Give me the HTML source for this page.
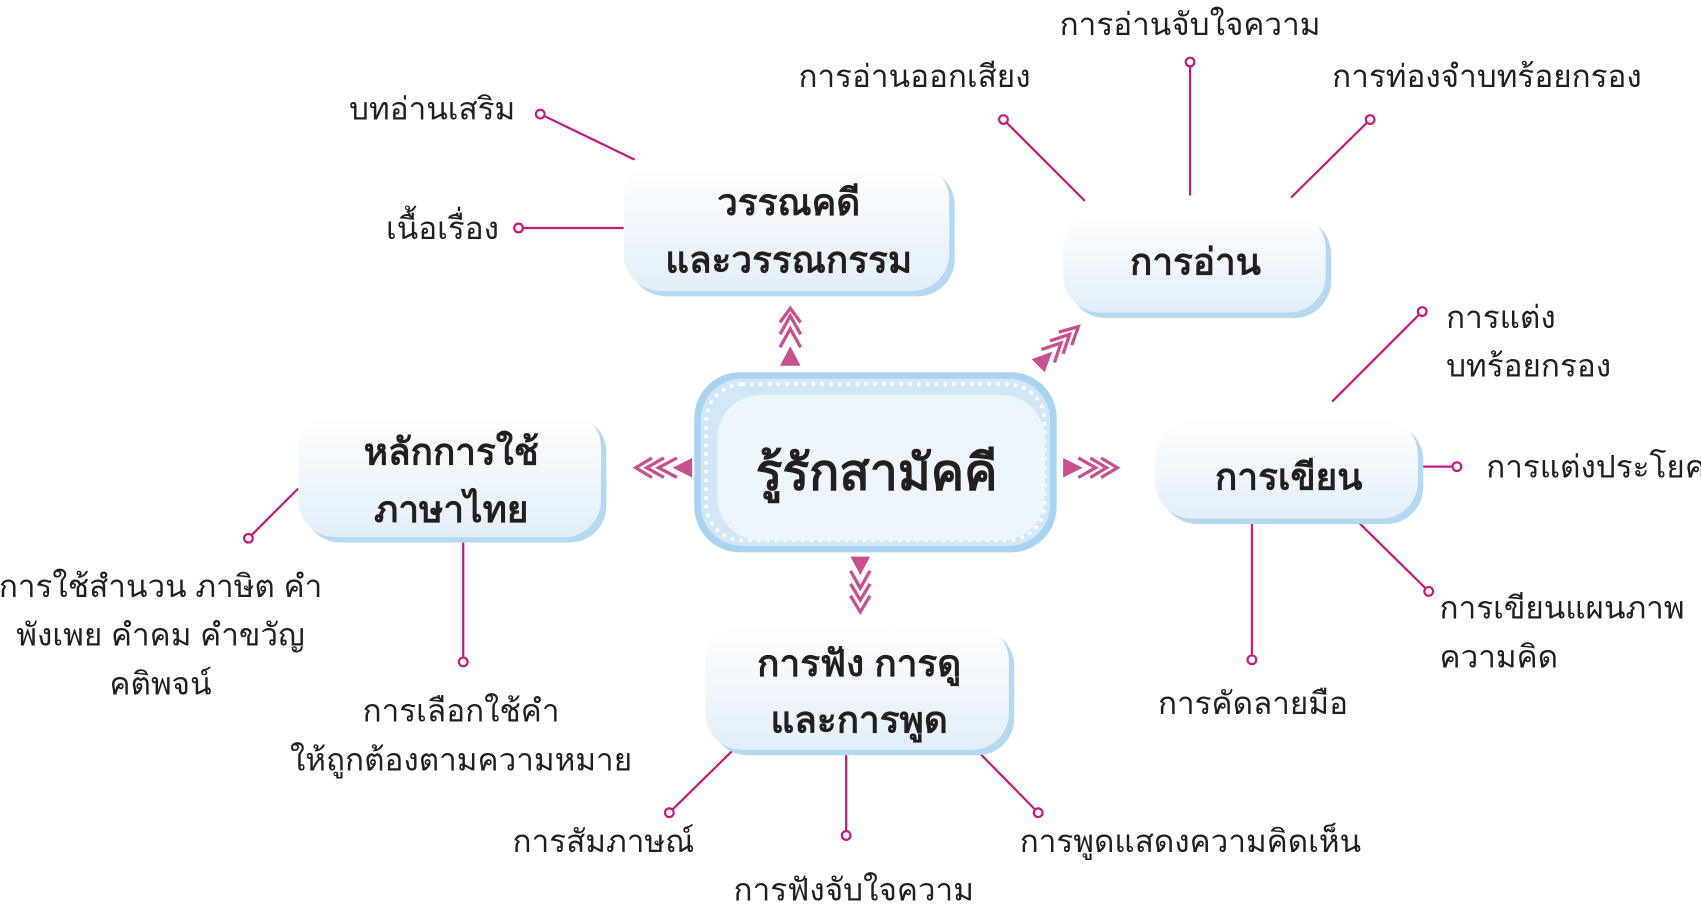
<!DOCTYPE html>
<html><head><meta charset="utf-8"><style>
html,body{margin:0;padding:0;background:#fff;width:1701px;height:904px;overflow:hidden}
svg{display:block}
text{font-family:"Liberation Sans","DejaVu Sans",sans-serif;fill:#231f20}
.b{font-weight:bold;font-size:34px;text-anchor:middle}
.l{font-size:29px}
.ln{stroke:#c8187a;stroke-width:2;fill:none}
.dot{fill:#fff;stroke:#c8187a;stroke-width:2}
.ar{fill:#c94f8f}
.ch{fill:none;stroke:#c94f8f;stroke-width:3}
</style></head><body>
<svg width="1701" height="904" viewBox="0 0 1568 833" xmlns="http://www.w3.org/2000/svg">
<defs>
<linearGradient id="g" x1="0" y1="0" x2="0" y2="1"><stop offset="0" stop-color="#ffffff"/><stop offset="1" stop-color="#e2eff9"/></linearGradient>
</defs>
<g class="ln">
<line x1="498" y1="105" x2="585" y2="147"/>
<line x1="478" y1="210" x2="575" y2="210"/>
<line x1="925" y1="110" x2="1000" y2="185"/>
<line x1="1097" y1="57" x2="1097" y2="180"/>
<line x1="1263" y1="110" x2="1190" y2="182"/>
<line x1="1311" y1="287" x2="1228" y2="370"/>
<line x1="1310" y1="430" x2="1343" y2="430"/>
<line x1="1253" y1="482" x2="1317" y2="545"/>
<line x1="1154" y1="482" x2="1154" y2="608"/>
<line x1="902" y1="693" x2="957" y2="749"/>
<line x1="780" y1="695" x2="780" y2="770"/>
<line x1="677" y1="690" x2="617" y2="749"/>
<line x1="427" y1="497" x2="427" y2="610"/>
<line x1="275" y1="450" x2="229" y2="496"/>
</g>
<g class="dot">
<circle cx="498" cy="105" r="4"/><circle cx="478" cy="210" r="4"/><circle cx="925" cy="110" r="4"/>
<circle cx="1097" cy="57" r="4"/><circle cx="1263" cy="110" r="4"/><circle cx="1311" cy="287" r="4"/>
<circle cx="1343" cy="430" r="4"/><circle cx="1317" cy="545" r="4"/><circle cx="1154" cy="608" r="4"/>
<circle cx="957" cy="749" r="4"/><circle cx="780" cy="770" r="4"/><circle cx="617" cy="749" r="4"/>
<circle cx="427" cy="610" r="4"/><circle cx="229" cy="496" r="4"/>
</g>
<g>
<rect x="580" y="155" width="300" height="118" rx="34" fill="#b4d9f1"/>
<rect x="575" y="150" width="300" height="118" rx="34" fill="url(#g)"/>
<rect x="985" y="200" width="242" height="93" rx="34" fill="#b4d9f1"/>
<rect x="980" y="195" width="242" height="93" rx="34" fill="url(#g)"/>
<rect x="280" y="383" width="279" height="117" rx="34" fill="#b4d9f1"/>
<rect x="275" y="378" width="279" height="117" rx="34" fill="url(#g)"/>
<rect x="1070" y="390" width="242" height="93" rx="34" fill="#b4d9f1"/>
<rect x="1065" y="385" width="242" height="93" rx="34" fill="url(#g)"/>
<rect x="655" y="580" width="280" height="116" rx="34" fill="#b4d9f1"/>
<rect x="650" y="575" width="280" height="116" rx="34" fill="url(#g)"/>
<rect x="640" y="343" width="334" height="166" rx="42" fill="#a9d3f0"/>
<rect x="646" y="349" width="322" height="154" rx="38" fill="#d3e8f6"/>
<rect x="651" y="354" width="312" height="144" rx="34" fill="none" stroke="#fff" stroke-width="3.5" stroke-dasharray="0.1 8" stroke-linecap="round"/>
<rect x="661" y="364" width="302" height="134" rx="40" fill="#eef6fd"/>
</g>
<text class="b" x="727" y="198">วรรณคดี</text>
<text class="b" x="727" y="251">และวรรณกรรม</text>
<text class="b" x="1102" y="253">การอ่าน</text>
<text class="b" x="416" y="428">หลักการใช้</text>
<text class="b" x="416" y="481">ภาษาไทย</text>
<text class="b" x="1188" y="451">การเขียน</text>
<text class="b" x="792" y="623">การฟัง การดู</text>
<text class="b" x="792" y="675">และการพูด</text>
<text class="b" x="808" y="451" style="font-size:46px">รู้รักสามัคคี</text>
<polygon class="ar" points="719,337 738,337 728.5,319"/>
<polyline class="ch" points="719,320 728.5,303 738,320"/>
<polyline class="ch" points="719,308 728.5,291 738,308"/>
<polyline class="ch" points="719,297 728.5,284 738,297"/>
<polygon class="ar" points="784,513 802,513 793,530"/>
<polyline class="ch" points="784,526 793,542 802,526"/>
<polyline class="ch" points="784,538 793,553 802,538"/>
<polyline class="ch" points="784,549 793,564 802,549"/>
<polygon class="ar" points="638,422 638,440 620,431"/>
<polyline class="ch" points="624,422 607,431 624,440"/>
<polyline class="ch" points="612,422 596,431 612,440"/>
<polyline class="ch" points="601,422 586,431 601,440"/>
<polygon class="ar" points="980,422 980,440 998,431"/>
<polyline class="ch" points="994,422 1010,431 994,440"/>
<polyline class="ch" points="1005,422 1020,431 1005,440"/>
<polyline class="ch" points="1015,422 1030,431 1015,440"/>
<polygon class="ar" points="951,331 963,343 970,324"/>
<polyline class="ch" points="960,322 978,316 972,334"/>
<polyline class="ch" points="968,314 986,308 980,326"/>
<polyline class="ch" points="976,306 994,301 988,318"/>
<g class="l">
<text x="475" y="110" text-anchor="end">บทอ่านเสริม</text>
<text x="460" y="220" text-anchor="end">เนื้อเรื่อง</text>
<text x="950" y="80" text-anchor="end">การอ่านออกเสียง</text>
<text x="1097" y="32" text-anchor="middle">การอ่านจับใจความ</text>
<text x="1228" y="80">การท่องจำบทร้อยกรอง</text>
<text x="1333" y="302">การแต่ง</text>
<text x="1333" y="347">บทร้อยกรอง</text>
<text x="1370" y="440">การแต่งประโยค</text>
<text x="1327" y="570">การเขียนแผนภาพ</text>
<text x="1327" y="615">ความคิด</text>
<text x="1155" y="658" text-anchor="middle">การคัดลายมือ</text>
<text x="940" y="785">การพูดแสดงความคิดเห็น</text>
<text x="787" y="830" text-anchor="middle">การฟังจับใจความ</text>
<text x="640" y="785" text-anchor="end">การสัมภาษณ์</text>
<text x="425" y="665" text-anchor="middle">การเลือกใช้คำ</text>
<text x="425" y="710" text-anchor="middle">ให้ถูกต้องตามความหมาย</text>
<text x="148" y="550" text-anchor="middle">การใช้สำนวน ภาษิต คำ</text>
<text x="148" y="595" text-anchor="middle">พังเพย คำคม คำขวัญ</text>
<text x="148" y="640" text-anchor="middle">คติพจน์</text>
</g>
</svg>
</body></html>
